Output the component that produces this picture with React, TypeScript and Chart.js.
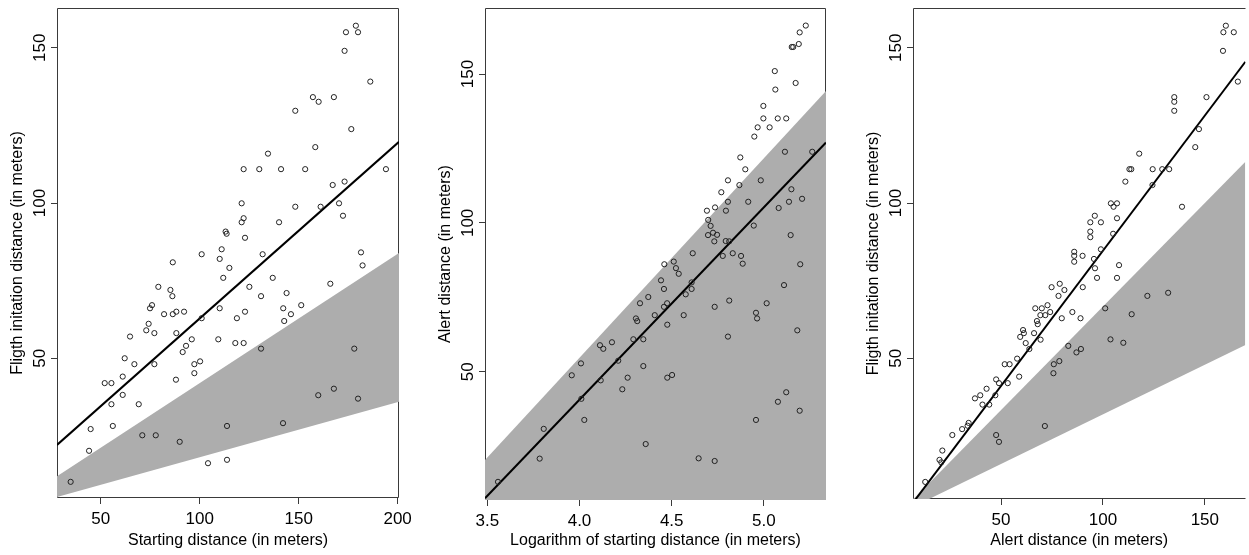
import React, { useEffect, useRef } from "react";
import { Chart, registerables } from "chart.js";

Chart.register(...registerables);

const FONT = '"Liberation Sans", Arial, Helvetica, sans-serif';
const BAND = "#adadad";
const INK = "#222222";

// ---------- Panel 1: starting distance vs flight initiation distance ----------
const p1Start = [178.9,173.9,180.0,173.2,186.2,157.2,160.1,167.8,148.3,176.6,158.4,134.5,122.2,130.1,141.1,153.3,194.1,167.2,173.2,121.2,148.3,161.1,170.4,172.4,122.2,121.2,140.1,113.1,113.6,122.9,111.1,131.8,181.5,101.0,86.4,110.1,115.0,111.9,79.1,85.2,86.2,75.9,74.9,82.0,86.4,88.2,92.1,110.1,101.0,118.8,74.2,73.0,77.1,64.8,88.2,96.0,109.4,118.0,93.1,91.4,62.1,67.0,77.1,97.3,100.2,61.1,97.3,52.0,55.4,88.0,61.1,55.4,69.2,44.9,56.1,113.8,71.0,77.8,89.9,44.1,104.2,113.8,34.8,136.9,125.1,131.0,143.9,166.0,182.3,142.2,122.9,142.7,146.1,151.3,122.2,131.0,178.1,167.8,159.9,180.0,142.1];
const p1Fid = [157.1,155.0,155.0,149.0,139.1,134.1,132.6,134.1,129.7,123.8,118.0,115.9,110.9,110.9,110.9,110.9,110.9,105.8,106.9,99.9,98.8,98.8,99.9,95.9,95.1,93.8,93.8,90.8,90.1,88.8,85.1,83.5,84.1,83.5,80.9,82.0,79.1,75.9,73.0,72.0,70.0,67.1,66.1,64.2,64.2,65.0,65.0,66.1,62.9,62.9,61.1,59.0,58.1,57.0,58.1,56.1,56.1,54.9,54.0,52.0,50.0,48.1,48.1,48.1,49.0,44.1,45.2,42.0,42.0,43.1,38.2,35.2,35.2,27.2,28.2,28.2,25.2,25.2,23.1,20.2,16.2,17.3,10.2,75.9,73.0,70.0,71.0,74.0,79.9,66.1,65.0,62.0,64.2,67.1,54.9,53.1,53.1,40.2,38.1,37.0,29.1];
const p1FitX = [27.9, 200.7];
const p1FitY = [22.1, 119.7];
const p1BandX = [27.9, 200.7];
const p1BandLo = [5.3, 36.0];
const p1BandHi = [12.0, 83.9];
const p1XTicks = [50, 100, 150, 200];
const p1YTicks = [50, 100, 150];

// ---------- Panel 2: log starting distance vs alert distance ----------
const p2LogStart = [5.227,5.194,5.189,5.159,5.151,5.059,5.172,5.062,4.997,4.997,5.075,5.121,4.966,5.031,4.948,5.114,5.262,4.872,4.899,4.805,4.983,4.867,4.769,4.691,4.735,4.805,4.794,4.915,5.149,5.136,5.207,5.080,4.698,4.711,4.697,4.724,4.746,4.731,4.793,4.812,4.945,5.145,4.614,4.777,4.831,4.876,4.511,4.460,4.885,5.197,4.523,4.538,4.442,4.458,4.608,4.608,4.576,5.109,4.328,4.373,4.475,4.458,4.408,4.565,4.476,4.733,4.812,5.015,4.957,4.963,5.181,4.805,4.346,4.346,4.476,4.502,5.121,5.076,5.194,4.957,4.359,4.646,4.733,4.306,4.313,4.292,4.176,4.111,4.129,4.210,4.008,3.958,4.115,4.261,4.232,4.010,4.026,3.806,3.784,3.558];
const p2Alert = [166.3,164.0,160.1,159.1,159.1,151.0,147.0,144.8,139.3,135.1,135.1,135.1,132.1,132.1,129.0,123.9,123.9,122.0,118.0,114.3,114.3,112.7,110.3,104.1,105.2,107.1,104.1,107.1,111.3,107.1,108.1,105.0,101.0,99.0,95.9,96.7,96.0,93.8,93.9,93.8,99.1,95.9,89.8,88.9,89.8,88.9,87.0,86.1,86.3,86.1,84.8,82.9,80.7,77.8,80.0,77.8,76.0,79.1,73.0,75.1,73.0,71.8,69.0,69.0,65.8,71.8,73.9,73.0,69.8,67.9,63.9,61.8,60.9,51.9,48.0,48.9,43.1,39.9,36.9,33.8,25.7,20.9,20.0,67.9,67.0,60.9,59.9,58.9,57.7,53.7,52.8,48.8,47.1,48.0,44.1,40.9,33.8,30.8,20.8,13.0];
const p2FitX = [3.4875, 5.3367];
const p2FitY = [7.5, 127.0];
const p2BandX = [3.4875, 5.3367];
const p2BandHi = [20.3, 144.3];
const p2XTicks = [3.5, 4.0, 4.5, 5.0];
const p2YTicks = [50, 100, 150];

// ---------- Panel 3: alert distance vs flight initiation distance ----------
const p3Alert = [160.3,159.1,164.2,158.9,166.2,135.0,135.0,135.0,150.8,147.1,145.3,117.8,113.0,113.9,124.4,129.1,132.5,111.0,124.3,138.8,103.9,106.9,105.2,96.0,93.8,99.0,106.9,93.8,93.8,105.0,99.0,85.9,85.9,85.9,90.0,95.6,96.1,107.9,97.1,106.9,90.1,78.8,78.2,81.1,79.8,85.0,89.0,101.1,114.1,121.8,132.0,83.0,87.0,89.2,103.7,110.0,78.6,74.8,66.8,70.0,72.8,71.7,69.3,74.1,67.6,68.0,66.2,69.4,60.8,61.2,59.4,62.1,63.9,57.9,51.8,54.2,58.9,53.3,47.6,49.0,42.9,47.2,39.8,37.2,40.9,44.2,34.1,33.6,30.9,26.1,21.2,19.8,20.7,12.8,75.9,75.7,71.5,47.6,49.0];
const p3Fid = [157.1,155.0,155.0,149.0,139.1,134.1,132.6,129.7,134.1,123.8,118.0,115.9,110.9,110.9,110.9,110.9,110.9,106.9,105.8,98.8,99.9,99.9,98.8,95.9,93.8,93.8,95.1,90.8,89.0,90.1,85.1,84.3,83.0,81.1,83.0,82.0,79.0,80.0,75.9,75.9,72.9,74.0,70.1,72.0,62.9,64.9,62.9,66.1,64.2,70.1,71.1,54.0,51.9,53.0,56.1,55.0,49.1,72.9,66.1,66.1,67.1,63.9,63.9,64.9,62.0,61.0,58.1,56.0,59.1,58.1,56.9,54.9,53.0,49.9,48.1,48.1,44.1,42.0,43.2,42.0,40.2,38.1,38.1,37.1,35.1,35.1,29.2,28.3,27.2,25.3,20.3,17.3,16.5,10.2,48.1,45.2,28.2,25.3,23.1];
const p3FitX = [6.8, 169.9];
const p3FitY = [3.5, 145.5];
const p3BandX = [0, 169.9];
const p3BandLo = [0, 54.3];
const p3BandHi = [0, 113.3];
const p3XTicks = [50, 100, 150];
const p3YTicks = [50, 100, 150];

type Area = { left: number; right: number; top: number; bottom: number };
type Spec = {
  left: number;
  width: number;
  area: Area;
  xMin: number; xMax: number; yMin: number; yMax: number;
  xTicks: number[]; yTicks: number[]; xDigits: number;
  xTitle: string; yTitle: string;
  px: number[]; py: number[];
  fitX: number[]; fitY: number[];
  bandX: number[]; bandLo: number[] | null; bandHi: number[];
  drawRight: boolean;
};

const H = 555;
const TICK_FONT = 17;
const TITLE_FONT = 16;

const pts = (xs: number[], ys: number[]) => xs.map((x, i) => ({ x, y: ys[i] }));

function boxPlugin(drawRight: boolean) {
  return {
    id: "plotBox",
    beforeDatasetsDraw(chart: any) {
      const { ctx, chartArea: a } = chart;
      const l = Math.round(a.left) + 0.5;
      const r = Math.round(a.right) - 0.5;
      const t = Math.round(a.top) + 0.5;
      const b = Math.round(a.bottom) - 0.5;
      ctx.save();
      ctx.strokeStyle = "#3a3a3a";
      ctx.lineWidth = 1;
      ctx.beginPath();
      if (drawRight) {
        ctx.rect(l, t, r - l, b - t);
      } else {
        ctx.moveTo(r + 1, t);
        ctx.lineTo(l, t);
        ctx.lineTo(l, b);
        ctx.lineTo(r + 1, b);
      }
      ctx.stroke();
      ctx.restore();
    },
  };
}

function Panel({ spec }: { spec: Spec }) {
  const ref = useRef<HTMLCanvasElement>(null);
  useEffect(() => {
    if (!ref.current) return;
    const s = spec;
    const datasets: any[] = [
      {
        data: pts(s.px, s.py),
        showLine: false,
        pointStyle: "circle",
        pointRadius: 2.6,
        pointHoverRadius: 2.6,
        pointBorderWidth: 1,
        pointBorderColor: INK,
        pointBackgroundColor: "rgba(0,0,0,0)",
        clip: 4,
      },
      {
        data: pts(s.fitX, s.fitY),
        borderColor: "#000",
        borderWidth: 2,
        pointRadius: 0,
        fill: false,
      },
    ];
    if (s.bandLo) {
      datasets.push({
        data: pts(s.bandX, s.bandLo),
        borderColor: "rgba(0,0,0,0)",
        borderWidth: 1,
        pointRadius: 0,
        fill: false,
      });
    }
    datasets.push({
      data: pts(s.bandX, s.bandHi),
      borderColor: "rgba(0,0,0,0)",
      borderWidth: 1,
      pointRadius: 0,
      backgroundColor: BAND,
      fill: s.bandLo ? "-1" : "start",
    });

    const yTitleOffset = s.area.left - 39 - (TITLE_FONT * 1.2) / 2;

    const chart = new Chart(ref.current, {
      type: "line",
      data: { datasets },
      options: {
        animation: false,
        responsive: false,
        devicePixelRatio: 1,
        events: [],
        layout: {
          padding: { left: 0, top: s.area.top, right: s.width - s.area.right, bottom: 0 },
        },
        plugins: {
          legend: { display: false },
          tooltip: { enabled: false },
        },
        scales: {
          x: {
            type: "linear",
            min: s.xMin,
            max: s.xMax,
            afterBuildTicks: (axis: any) => {
              axis.ticks = s.xTicks.map((v) => ({ value: v }));
            },
            afterFit: (axis: any) => {
              axis.height = H - s.area.bottom;
            },
            border: { display: false },
            grid: {
              display: true,
              drawOnChartArea: false,
              drawTicks: true,
              tickLength: 6,
              color: "#3a3a3a",
              lineWidth: 1,
            },
            ticks: {
              autoSkip: false,
              minRotation: 0,
              maxRotation: 0,
              padding: 5,
              color: "#000",
              font: { family: FONT, size: TICK_FONT },
              callback: (v: any) => Number(v).toFixed(s.xDigits),
            },
            title: {
              display: true,
              text: s.xTitle,
              color: "#000",
              font: { family: FONT, size: TITLE_FONT },
              padding: { top: 0, bottom: 4.4 },
            },
          },
          y: {
            type: "linear",
            min: s.yMin,
            max: s.yMax,
            afterBuildTicks: (axis: any) => {
              axis.ticks = s.yTicks.map((v) => ({ value: v }));
            },
            afterFit: (axis: any) => {
              axis.width = s.area.left;
            },
            border: { display: false },
            grid: {
              display: true,
              drawOnChartArea: false,
              drawTicks: true,
              tickLength: 6,
              color: "#3a3a3a",
              lineWidth: 1,
            },
            ticks: {
              autoSkip: false,
              minRotation: 90,
              maxRotation: 90,
              crossAlign: "center",
              padding: -3,
              color: "#000",
              font: { family: FONT, size: TICK_FONT },
              callback: (v: any) => String(v),
            },
            title: {
              display: true,
              text: s.yTitle,
              color: "#000",
              font: { family: FONT, size: TITLE_FONT },
              padding: { top: yTitleOffset, bottom: 0 },
            },
          },
        },
      } as any,
      plugins: [boxPlugin(s.drawRight)],
    });
    return () => chart.destroy();
  }, [spec]);

  return (
    <canvas
      ref={ref}
      width={spec.width}
      height={H}
      style={{ position: "absolute", left: spec.left, top: 0, width: spec.width, height: H }}
    />
  );
}

const specs: Spec[] = [
  {
    left: 0, width: 420,
    area: { left: 57, right: 399, top: 8, bottom: 498 },
    xMin: 27.9, xMax: 200.7, yMin: 5.0, yMax: 162.8,
    xTicks: p1XTicks, yTicks: p1YTicks, xDigits: 0,
    xTitle: "Starting distance (in meters)",
    yTitle: "Fligth initation distance (in meters)",
    px: p1Start, py: p1Fid,
    fitX: p1FitX, fitY: p1FitY,
    bandX: p1BandX, bandLo: p1BandLo, bandHi: p1BandHi,
    drawRight: true,
  },
  {
    left: 420, width: 420,
    area: { left: 65, right: 406, top: 8, bottom: 500 },
    xMin: 3.4875, xMax: 5.3367, yMin: 6.9, yMax: 172.2,
    xTicks: p2XTicks, yTicks: p2YTicks, xDigits: 1,
    xTitle: "Logarithm of starting distance (in meters)",
    yTitle: "Alert distance (in meters)",
    px: p2LogStart, py: p2Alert,
    fitX: p2FitX, fitY: p2FitY,
    bandX: p2BandX, bandLo: null, bandHi: p2BandHi,
    drawRight: true,
  },
  {
    left: 840, width: 409,
    area: { left: 73, right: 409, top: 8, bottom: 499 },
    xMin: 6.8, xMax: 169.9, yMin: 4.7, yMax: 162.8,
    xTicks: p3XTicks, yTicks: p3YTicks, xDigits: 0,
    xTitle: "Alert distance (in meters)",
    yTitle: "Fligth initation distance (in meters)",
    px: p3Alert, py: p3Fid,
    fitX: p3FitX, fitY: p3FitY,
    bandX: p3BandX, bandLo: p3BandLo, bandHi: p3BandHi,
    drawRight: false,
  },
];

export default function App() {
  return (
    <div
      style={{
        position: "fixed",
        left: 0,
        top: 0,
        width: 1249,
        height: H,
        overflow: "hidden",
        background: "#fff",
      }}
    >
      {specs.map((s, i) => (
        <Panel key={i} spec={s} />
      ))}
    </div>
  );
}
